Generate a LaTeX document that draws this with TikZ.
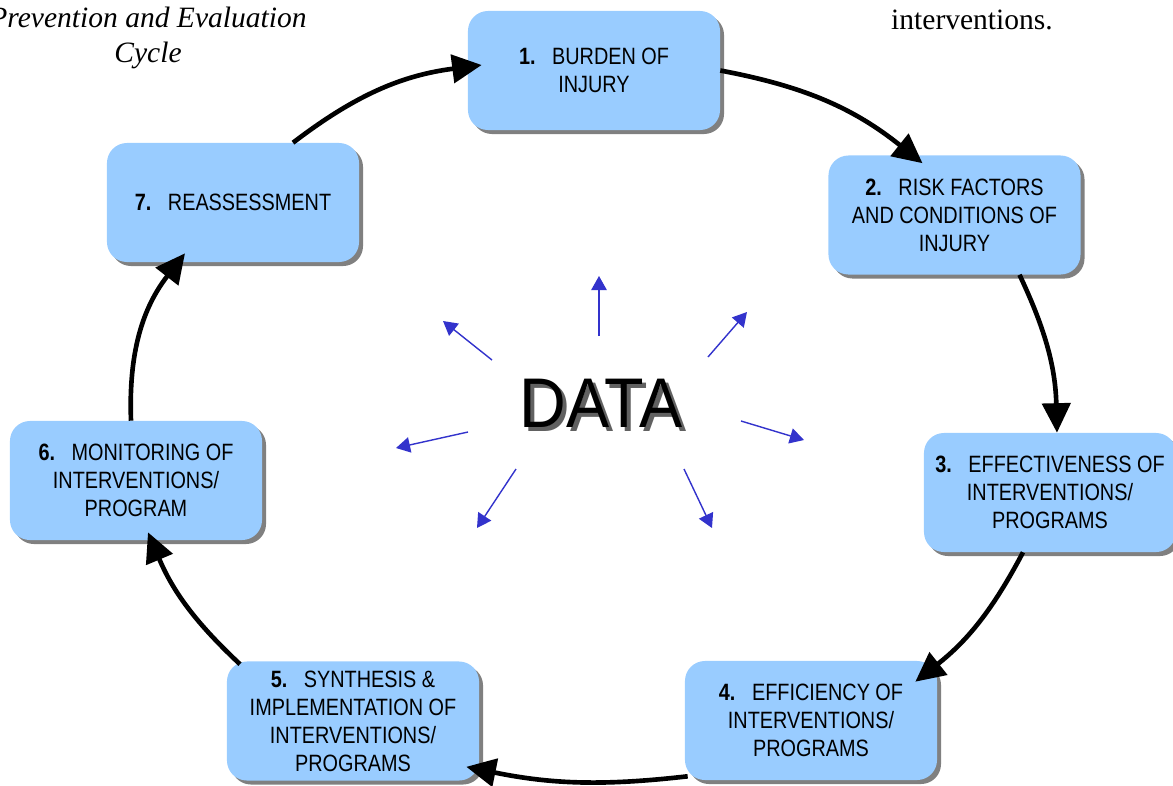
\documentclass[tikz,border=0pt]{standalone}
\usepackage{fontspec}
\newfontfamily\boxfont[FakeStretch=0.84]{Liberation Sans}
\newfontfamily\datafont[FakeStretch=0.92]{Liberation Sans}
\newfontfamily\pagefont{Liberation Serif}
\usetikzlibrary{arrows.meta,calc,shadows}
\definecolor{stepblue}{RGB}{153,204,255}
\definecolor{shadowgray}{RGB}{128,128,128}
\definecolor{rayblue}{RGB}{51,51,204}
\newcommand{\stepno}[1]{\textbf{#1.}\hspace{0.7em}}

\begin{document}
\begin{tikzpicture}[
  x=0.025cm, y=-0.025cm,
  % ── node styles ──────────────────────────────────────────────────────────
  stage/.style={
    rectangle, rounded corners=0.5cm,
    fill=stepblue, minimum width=6.3cm, minimum height=2.975cm,
    align=center, inner sep=2pt,
    font=\boxfont\fontsize{16.8}{19.9}\selectfont,
    general shadow={fill=shadowgray, shadow xshift=0.1cm, shadow yshift=-0.1cm}
  },
  datatext/.style={
    inner sep=0pt, font=\datafont\fontsize{50}{50}\selectfont
  },
  pagetext/.style={
    inner sep=0pt, align=center,
    font=\pagefont\fontsize{21}{24.9}\selectfont
  },
  % thick curved arrows of the cycle
  cyclearrow/.style={
    draw=black, line width=3.3pt,
    -{Triangle[length=21pt,width=20pt]}
  },
  % thin arrows spreading out from the centre
  ray/.style={
    draw=rayblue, line width=1pt,
    -{Triangle[length=10pt,width=11pt]}
  },
]

\useasboundingbox (0,0) rectangle (1173,785);

% ── Surrounding page text ───────────────────────────────────────────────────
\node[pagetext, anchor=north] (title) at (148,7)
  {\itshape Prevention and Evaluation\\\itshape Cycle};
\node[pagetext, anchor=base] (tail) at (972,29) {interventions.};

% ── Steps ───────────────────────────────────────────────────────────────────
\node[stage] (b1) at (594,70.5)   {\stepno{1}BURDEN OF\\INJURY};
\node[stage] (b2) at (954.5,215)  {\stepno{2}RISK FACTORS\\AND CONDITIONS OF\\INJURY};
\node[stage] (b3) at (1050,492.5) {\stepno{3}EFFECTIVENESS OF\\INTERVENTIONS/\\PROGRAMS};
\node[stage] (b4) at (811,720.5)  {\stepno{4}EFFICIENCY OF\\INTERVENTIONS/\\PROGRAMS};
\node[stage] (b5) at (353,721)    {\stepno{5}SYNTHESIS \&\\IMPLEMENTATION OF\\INTERVENTIONS/\\PROGRAMS};
\node[stage] (b6) at (136,480.5)  {\stepno{6}MONITORING OF\\INTERVENTIONS/\\PROGRAM};
\node[stage] (b7) at (233,202.5)  {\stepno{7}REASSESSMENT};

% ── Centre label ────────────────────────────────────────────────────────────
\node[datatext, text=black!62] (datashade) at (605,407) {DATA};
\node[datatext] (data) at (601,403) {DATA};

% ── Rays out of the centre ──────────────────────────────────────────────────
\foreach \sx/\sy/\dx/\dy in {-2/-67/0/-60, 107/-46/39/-45, 140/18/63/19,
    83/66/28/59, -85/66/-39/59, -133/29/-72/16, -109/-43/-49/-39}{
  \draw[ray] ($(data.center)+(\sx,\sy)$) -- ++(\dx,\dy);
}

% ── Cycle arrows ────────────────────────────────────────────────────────────
\draw[cyclearrow] ($(b7.north)+(60,0)$) to[bend left=15] ($(b1.west)+(14,-5.5)$);
\draw[cyclearrow] (b1.east) to[bend left=14] ($(b2.north)+(-32,8)$);
\draw[cyclearrow] ($(b2.south)+(65,0)$) to[bend left=12] ($(b3.north)+(7,0)$);
\draw[cyclearrow] ($(b3.south)+(-27,0)$) to[bend left=12] ($(b4.north east)+(-22,21)$);
\draw[cyclearrow] ($(b4.south west)+(3,-4)$) to[bend left=9] ($(b5.south east)+(-13,-14)$);
\draw[cyclearrow] ($(b5.north)+(-113,3)$) to[bend left=12] ($(b6.south)+(12,-8)$);
\draw[cyclearrow] ($(b6.north)+(-5,0)$) to[bend left=20] ($(b7.south)+(-48,-9)$);

\end{tikzpicture}
\end{document}
